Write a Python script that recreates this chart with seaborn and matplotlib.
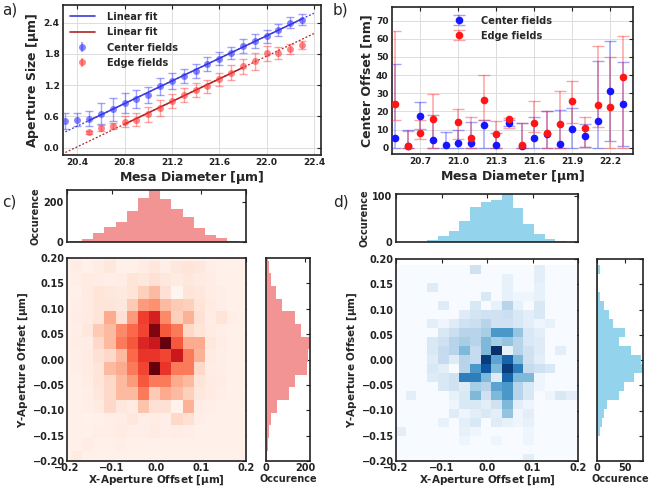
import numpy as np
import pandas as pd
import matplotlib
matplotlib.use("Agg")
import matplotlib.pyplot as plt
from matplotlib.lines import Line2D
import seaborn as sns

# ---------------- data ----------------
# panel a
a_diam = [20.3, 20.4, 20.5, 20.6, 20.7, 20.8, 20.9, 21.0, 21.1, 21.2, 21.3,
          21.4, 21.5, 21.6, 21.7, 21.8, 21.9, 22.0, 22.1, 22.2, 22.3]
a_center = [0.51, 0.54, 0.56, 0.65, 0.74, 0.86, 0.93, 1.01, 1.18, 1.28, 1.38,
            1.47, 1.61, 1.71, 1.82, 1.95, 2.05, 2.14, 2.26, 2.40, 2.46]
a_center_err = [0.16, 0.12, 0.15, 0.20, 0.22, 0.20, 0.17, 0.16, 0.16, 0.15, 0.14,
                0.14, 0.14, 0.13, 0.12, 0.13, 0.13, 0.12, 0.11, 0.11, 0.10]
a_edge = [np.nan, np.nan, 0.30, 0.38, 0.42, 0.50, 0.54, 0.64, 0.76, 0.90, 1.01,
          1.11, 1.18, 1.31, 1.44, 1.56, 1.66, 1.81, 1.82, 1.89, 1.97]
a_edge_err = [np.nan, np.nan, 0.03, 0.05, 0.06, 0.10, 0.12, 0.15, 0.15, 0.14, 0.14,
              0.13, 0.12, 0.13, 0.14, 0.14, 0.16, 0.15, 0.11, 0.10, 0.08]
a_center_fit_range = (20.5, 22.3)
a_edge_fit_range = (20.8, 21.8)

# panel b
b_diam = [20.5, 20.6, 20.7, 20.8, 20.9, 21.0, 21.1, 21.2, 21.3, 21.4,
          21.5, 21.6, 21.7, 21.8, 21.9, 22.0, 22.1, 22.2, 22.3]
b_center = [5.5, 1.0, 17.7, 4.2, 1.2, 2.8, 2.4, 12.5, 1.3, 13.8,
            1.1, 5.1, 7.5, 2.2, 10.5, 6.6, 14.9, 31.2, 24.1]
b_center_lo = [0, 0, 10.5, 0, 0, 0, 0, 0, 0, 12.0,
               0, 0, 0, 0, 0, 0.5, 0, 3.5, 1.0]
b_center_hi = [46.0, 9.5, 25.0, 17.8, 8.5, 10.0, 14.0, 15.0, 8.3, 15.0,
               13.5, 17.0, 20.0, 20.5, 22.0, 13.0, 47.5, 59.0, 47.0]
b_edge = [24.0, 1.0, 8.2, 15.7, np.nan, 14.0, 5.2, 26.0, 7.5, 16.0,
          1.2, 13.6, 8.0, 13.0, 25.6, 10.8, 23.4, 22.4, 38.7]
b_edge_lo = [15.0, 0, 4.5, 0, np.nan, 5.0, 0, 15.0, 0, 11.0,
             0, 8.5, 0, 0, 13.5, 0.5, 11.2, 0, 0]
b_edge_hi = [64.5, 9.0, 15.5, 29.5, np.nan, 21.2, 16.7, 40.0, 14.5, 16.5,
             13.5, 25.7, 20.0, 31.3, 37.0, 17.0, 56.0, 50.0, 61.7]

# panel c (edge fields) : bin centres [um], marginal counts, relative 2D intensity
c_x_bins = [-0.204, -0.179, -0.154, -0.129, -0.104, -0.079, -0.054, -0.029, -0.004,
            0.021, 0.046, 0.071, 0.096, 0.121, 0.146, 0.171, 0.196]
c_y_bins = [0.2075, 0.1825, 0.1575, 0.1325, 0.1075, 0.0825, 0.0575, 0.0325, 0.0075,
            -0.0175, -0.0425, -0.0675, -0.0925, -0.1175, -0.1425, -0.1675, -0.1925]
c_x_counts = [2, 3, 14, 43, 77, 99, 157, 223, 261, 214, 165, 123, 70, 35, 19, 4, 2]
c_y_counts = [10, 15, 28, 52, 83, 149, 181, 226, 216, 209, 147, 117, 57, 28, 17, 10, 7]
c_heat = [
    [.03, .03, .03, .03, .05, .03, .03, .03, .04, .03, .03, .03, .03, .03, .03, .03, .03],
    [.03, .05, .03, .05, .08, .03, .03, .05, .08, .04, .08, .10, .08, .04, .03, .03, .03],
    [.03, .04, .06, .05, .04, .05, .10, .08, .12, .08, .06, .08, .06, .05, .03, .03, .03],
    [.03, .03, .06, .10, .08, .07, .10, .18, .25, .12, .00, .10, .08, .05, .04, .03, .03],
    [.03, .04, .06, .10, .10, .08, .20, .35, .38, .25, .20, .18, .10, .06, .04, .03, .03],
    [.03, .05, .06, .10, .30, .12, .35, .62, .72, .40, .18, .28, .12, .05, .10, .04, .03],
    [.03, .04, .08, .20, .25, .40, .50, .60, .95, .55, .45, .15, .10, .06, .04, .03, .03],
    [.03, .05, .05, .15, .25, .45, .55, .70, .75, 1.0, .55, .30, .30, .08, .05, .03, .03],
    [.03, .04, .06, .12, .15, .25, .50, .65, .65, .60, .75, .45, .28, .06, .04, .03, .03],
    [.03, .04, .06, .10, .25, .30, .45, .60, 1.0, .65, .45, .45, .15, .05, .04, .03, .03],
    [.03, .03, .05, .10, .15, .25, .35, .55, .45, .45, .30, .25, .10, .06, .05, .03, .03],
    [.03, .03, .04, .08, .15, .25, .25, .45, .20, .30, .25, .18, .08, .06, .04, .03, .03],
    [.03, .03, .04, .06, .15, .08, .06, .22, .12, .12, .02, .28, .05, .04, .03, .03, .03],
    [.03, .03, .02, .03, .04, .05, .08, .04, .05, .04, .15, .12, .04, .03, .03, .03, .03],
    [.03, .03, .03, .04, .04, .06, .04, .04, .06, .04, .05, .04, .03, .03, .03, .03, .03],
    [.03, .03, .05, .03, .03, .04, .03, .03, .03, .03, .03, .03, .03, .03, .03, .03, .03],
    [.03, .06, .03, .03, .03, .03, .03, .03, .03, .03, .03, .03, .03, .03, .03, .03, .03],
]

# panel d (center fields)
d_x_bins = [-0.190, -0.167, -0.143, -0.120, -0.096, -0.073, -0.049, -0.026, -0.002,
            0.021, 0.045, 0.068, 0.092, 0.115, 0.139, 0.162, 0.186]
d_y_bins = [0.1786, 0.1608, 0.1430, 0.1252, 0.1074, 0.0896, 0.0718, 0.0540, 0.0362,
            0.0184, 0.0006, -0.0172, -0.0350, -0.0528, -0.0706, -0.0884, -0.1062,
            -0.1240, -0.1418, -0.1596, -0.1774, -0.1952]
d_x_counts = [1, 1, 1, 5, 13, 24, 46, 76, 86, 90, 104, 73, 40, 18, 6, 2, 1]
d_y_counts = [5, 2, 2, 5, 12, 21, 29, 50, 39, 60, 78, 82, 66, 48, 39, 17, 12, 9, 6, 2, 1, 1]
d_heat = [
    [0, 0, 0, 0, 0, 0, 0, .20, 0, 0, 0, 0, 0, .10, 0, 0, 0],
    [0, 0, 0, 0, 0, 0, 0, 0, 0, 0, .08, 0, 0, .10, 0, 0, 0],
    [0, 0, 0, .12, 0, 0, 0, 0, 0, 0, .08, 0, 0, .08, 0, 0, 0],
    [0, 0, 0, 0, 0, 0, 0, 0, .15, 0, .08, .05, .05, .08, 0, 0, 0],
    [0, 0, 0, 0, .12, 0, 0, .15, 0, .08, .30, .08, 0, .15, 0, 0, 0],
    [0, 0, 0, 0, 0, 0, .12, .18, .20, .20, .22, .15, .10, .15, 0, 0, 0],
    [0, 0, 0, .10, .05, .12, .20, .22, .30, .20, .20, .15, .10, .05, .08, 0, 0],
    [0, 0, 0, 0, .15, .22, .30, .30, .35, .60, .60, .40, .15, .10, 0, 0, 0],
    [0, 0, 0, .15, .20, .30, .35, .30, .45, .35, .40, .30, .15, .12, 0, 0, 0],
    [0, 0, 0, .15, .25, .30, .45, .25, .45, 1.0, .08, .30, .20, .12, 0, .10, 0],
    [0, 0, 0, .12, .25, .12, .30, .25, .95, .55, .80, .45, .20, .10, 0, 0, 0],
    [0, 0, 0, .15, .10, 0, .30, .60, .85, .45, .95, .70, .25, .20, .15, 0, 0],
    [0, 0, 0, .12, .15, .20, .70, .70, .45, .12, .80, .45, .45, .05, 0, 0, 0],
    [0, 0, 0, 0, .15, .20, .12, .35, .30, .55, .60, .30, .15, .05, 0, 0, 0],
    [0, .10, 0, 0, 0, .08, .15, .45, .20, .45, .60, .30, .15, 0, .05, .15, .10],
    [0, 0, 0, 0, 0, .05, .15, .15, .10, .20, .45, .10, .05, 0, 0, 0, 0],
    [0, 0, 0, 0, 0, .12, .05, .10, .15, .10, .40, .05, .10, 0, 0, 0, 0],
    [0, 0, 0, 0, .08, 0, .10, .15, 0, .12, .08, .05, .08, 0, 0, 0, 0],
    [.10, 0, 0, 0, 0, 0, .08, .05, 0, 0, 0, 0, .05, 0, 0, 0, 0],
    [0, 0, 0, 0, 0, 0, .05, 0, 0, .05, 0, 0, .05, 0, 0, 0, 0],
    [0, 0, 0, 0, 0, 0, 0, 0, 0, 0, 0, 0, 0, 0, 0, 0, 0],
    [0, 0, 0, 0, 0, 0, 0, 0, 0, 0, 0, 0, .10, 0, 0, 0, 0],
]

# ---------------- style ----------------
sns.set_style("white")
plt.rcParams.update({
    "font.family": ["DejaVu Sans"],
    "font.weight": "bold",
    "axes.labelweight": "bold",
    "axes.linewidth": 1.2,
    "axes.edgecolor": "#222222",
    "xtick.direction": "in",
    "ytick.direction": "in",
    "mathtext.default": "regular",
})

W, H = 649, 487
fig = plt.figure(figsize=(W / 100, H / 100), dpi=100)


def add_ax(x0, y0, x1, y1):
    return fig.add_axes([x0 / W, 1 - y1 / H, (x1 - x0) / W, (y1 - y0) / H])


def style_ticks(ax, size, pad=2.5):
    ax.tick_params(direction="in", top=True, right=True, length=3, width=0.8,
                   labelsize=size, colors="#222222", pad=pad)
    for lab in ax.get_xticklabels() + ax.get_yticklabels():
        lab.set_fontweight("bold")


def edges_from_centers(c):
    c = np.sort(np.asarray(c, float))
    mids = (c[:-1] + c[1:]) / 2
    e = np.concatenate([[c[0] - (mids[0] - c[0])], mids, [c[-1] + (c[-1] - mids[-1])]])
    return [float(v) for v in e]


# ---------------- panel a ----------------
ax = add_ax(63, 5, 321, 155)
xa = np.array(a_diam)
ca, ce = np.array(a_center), np.array(a_edge)
full = np.linspace(20.3, 22.4, 50)
blue_line, red_line = "#3b3bd6", "#b22222"
for yv, rng, col in [(ca, a_center_fit_range, blue_line), (ce, a_edge_fit_range, red_line)]:
    m = (xa >= rng[0] - 1e-9) & (xa <= rng[1] + 1e-9) & ~np.isnan(yv)
    k, b0 = np.polyfit(xa[m], yv[m], 1)
    sns.lineplot(x=full, y=k * full + b0, color=col, lw=0.9, ax=ax,
                 linestyle=(0, (1.5, 1.5)))
    seg = np.linspace(rng[0], rng[1], 20)
    sns.lineplot(x=seg, y=k * seg + b0, color=col, lw=1.1, ax=ax)
ax.errorbar(xa, ca, yerr=a_center_err, fmt="o", ms=5, color=(0.2, 0.2, 1, 0.6),
            mec="none", ecolor=(0.2, 0.2, 1, 0.45), elinewidth=1, capsize=3, zorder=3)
ax.errorbar(xa, ce, yerr=a_edge_err, fmt="o", ms=5, color=(1, 0.2, 0.2, 0.6),
            mec="none", ecolor=(1, 0.2, 0.2, 0.45), elinewidth=1, capsize=3, zorder=3)
ax.set_xlim(20.28, 22.46)
ax.set_ylim(-0.14, 2.74)
ax.set_xticks([20.4, 20.8, 21.2, 21.6, 22.0, 22.4])
ax.set_yticks([0.0, 0.6, 1.2, 1.8, 2.4])
ax.grid(True, color="#dddddd", lw=0.7)
ax.set_xlabel("Mesa Diameter [$\\mu$m]", fontsize=9, labelpad=1)
ax.set_ylabel("Aperture Size [$\\mu$m]", fontsize=9, labelpad=2)
style_ticks(ax, 6.5)
h_a = [
    Line2D([], [], color=blue_line, lw=1.2),
    Line2D([], [], color=red_line, lw=1.2),
    ax.errorbar([], [], yerr=[], fmt="o", ms=5, color=(0.2, 0.2, 1, 0.6), mec="none",
                ecolor=(0.2, 0.2, 1, 0.45), capsize=3),
    ax.errorbar([], [], yerr=[], fmt="o", ms=5, color=(1, 0.2, 0.2, 0.6), mec="none",
                ecolor=(1, 0.2, 0.2, 0.45), capsize=3),
]
ax.legend(h_a, ["Linear fit", "Linear fit", "Center fields", "Edge fields"],
          loc="upper left", frameon=False, fontsize=7, handlelength=2.6,
          borderaxespad=0.3, labelspacing=0.55, handletextpad=1.2)

# ---------------- panel b ----------------
ax = add_ax(392, 7, 633, 154)
xb = np.array(b_diam)
bc, be = np.array(b_center), np.array(b_edge)
ax.errorbar(xb, bc, yerr=[bc - np.array(b_center_lo), np.array(b_center_hi) - bc],
            fmt="o", ms=5.5, color="#1515ff", mec="none",
            ecolor=(0.2, 0.2, 1, 0.45), elinewidth=1.1, capsize=4, zorder=3,
            label="Center fields")
ax.errorbar(xb, be, yerr=[be - np.array(b_edge_lo), np.array(b_edge_hi) - be],
            fmt="o", ms=5.5, color="#ff1515", mec="none",
            ecolor=(1, 0.2, 0.2, 0.45), elinewidth=1.1, capsize=4, zorder=3,
            label="Edge fields")
ax.set_xlim(20.476, 22.38)
ax.set_ylim(-3.5, 77.5)
ax.set_xticks([20.7, 21.0, 21.3, 21.6, 21.9, 22.2])
ax.set_yticks(range(0, 80, 10))
ax.grid(True, color="#dddddd", lw=0.7)
ax.set_xlabel("Mesa Diameter [$\\mu$m]", fontsize=9, labelpad=1)
ax.set_ylabel("Center Offset [nm]", fontsize=9, labelpad=2)
style_ticks(ax, 6.5)
ax.legend(loc="upper center", bbox_to_anchor=(0.45, 1.0), frameon=False, fontsize=7,
          handletextpad=1.2, labelspacing=0.5)


# ---------------- panels c / d ----------------
def joint(rect_top, rect_main, rect_right, xc, yc, xcnt, ycnt, heat, cmap, hcol,
          xticks_top, xticks_right):
    axt = add_ax(*rect_top)
    axm = add_ax(*rect_main)
    axr = add_ax(*rect_right)
    xe, ye = edges_from_centers(xc), edges_from_centers(yc)
    X, Y = np.meshgrid(xc, yc)
    df2 = pd.DataFrame({"x": X.ravel(), "y": Y.ravel(),
                        "w": np.asarray(heat, float).ravel()})
    sns.histplot(data=df2, x="x", y="y", weights="w",
                 bins=(xe, ye), cmap=cmap, thresh=None, vmin=0, vmax=1, ax=axm)
    axm.set_xlim(-0.2, 0.2)
    axm.set_ylim(-0.2, 0.2)
    axm.set_xticks([-0.2, -0.1, 0.0, 0.1, 0.2])
    axm.set_yticks(np.round(np.arange(-0.2, 0.201, 0.05), 2))
    axm.set_xlabel("X-Aperture Offset [$\\mu$m]", fontsize=7.5, labelpad=0.5)
    axm.set_ylabel("Y-Aperture Offset [$\\mu$m]", fontsize=7.5, labelpad=2)
    style_ticks(axm, 7, pad=1.5)

    dft = pd.DataFrame({"x": list(xc), "n": list(xcnt)})
    sns.histplot(data=dft, x="x", weights="n", bins=xe, color=hcol, alpha=1,
                 linewidth=0, ax=axt)
    axt.set_xlim(-0.2, 0.2)
    axt.set_ylim(0, max(xcnt))
    axt.set_xticks([-0.2, -0.1, 0.0, 0.1, 0.2])
    axt.set_yticks(xticks_top)
    axt.set_xlabel("")
    axt.set_ylabel("Occurence", fontsize=7, labelpad=2)
    style_ticks(axt, 7)
    axt.tick_params(labelbottom=False)

    dfr = pd.DataFrame({"y": list(yc), "n": list(ycnt)})
    sns.histplot(data=dfr, y="y", weights="n", bins=ye, color=hcol, alpha=1,
                 linewidth=0, ax=axr)
    axr.set_ylim(-0.2, 0.2)
    axr.set_xlim(0, max(ycnt))
    axr.set_yticks(np.round(np.arange(-0.2, 0.201, 0.05), 2))
    axr.set_xticks(xticks_right)
    axr.set_ylabel("")
    axr.set_xlabel("Occurence", fontsize=7, labelpad=0.5)
    style_ticks(axr, 7, pad=1.5)
    axr.tick_params(labelleft=False)


joint((67, 190, 246, 242), (67, 258, 246, 461), (266, 258, 310, 461),
      c_x_bins, c_y_bins, c_x_counts, c_y_counts, c_heat, "Reds", "#f29494",
      [0, 200], [0, 200])
joint((396, 194, 578, 242), (396, 259, 578, 461), (597, 259, 643, 461),
      d_x_bins, d_y_bins, d_x_counts, d_y_counts, d_heat, "Blues", "#93d3ec",
      [0, 100], [0, 50])

# panel labels
for txt, x, y in [("a)", 2, 10), ("b)", 333, 10), ("c)", 2, 202), ("d)", 333, 202)]:
    fig.text(x / W, 1 - y / H, txt, fontsize=11, fontweight="normal", va="center",
             ha="left")

fig.savefig("out.png", dpi=100)
